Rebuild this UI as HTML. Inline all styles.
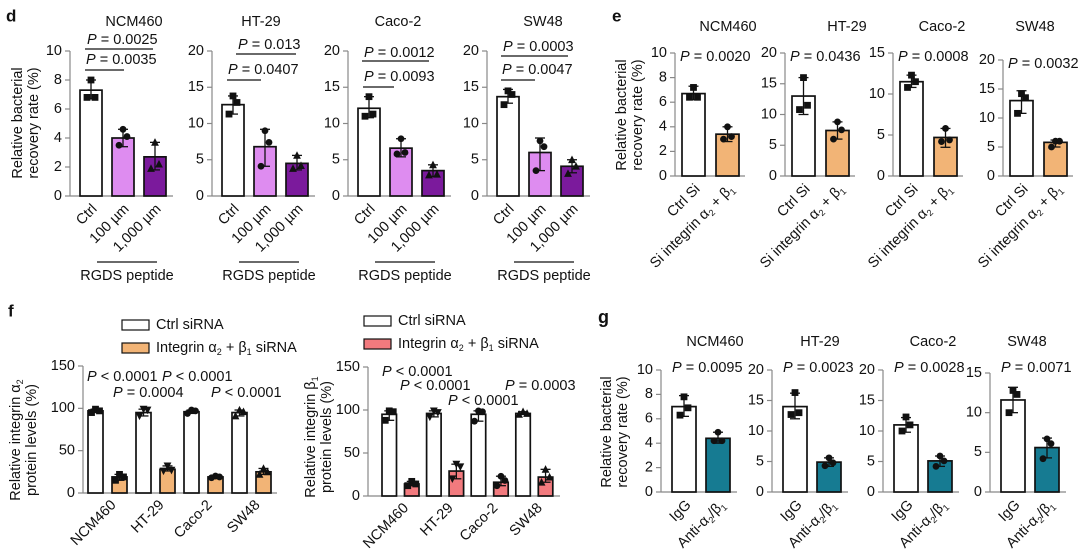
<!DOCTYPE html>
<html><head><meta charset="utf-8"><style>
html,body{margin:0;padding:0;background:#fff;}
svg{display:block;font-family:"Liberation Sans",Arial,sans-serif;}
</style></head><body>
<svg id="fig" width="1080" height="556" viewBox="0 0 1080 556" xmlns="http://www.w3.org/2000/svg"></svg>
<script>
// ---------- DATA ----------
const cells = ["NCM460","HT-29","Caco-2","SW48"];
// panel d
const dCats = ["Ctrl","100 µm","1,000 µm"];
const dMax = [10,20,20,20];
const dTicks = [[0,2,4,6,8,10],[0,5,10,15,20],[0,5,10,15,20],[0,5,10,15,20]];
const dMeans = [[7.3,4.0,2.7],[12.6,6.8,4.5],[12.1,6.6,3.5],[13.7,6.0,4.1]];
const dLo = [[6.7,3.4,1.8],[11.3,4.1,3.6],[10.8,5.4,2.7],[12.8,3.5,3.2]];
const dHi = [[8.0,4.6,3.7],[13.8,9.2,5.6],[13.7,7.9,4.3],[14.7,8.0,5.0]];
const dPts = [[[8.0,6.8,6.8],[4.6,4.1,3.5],[3.7,2.2,1.9]],[[13.8,12.9,11.3],[9.0,7.4,4.1],[5.6,4.2,3.8]],[[13.7,11.3,11.0],[7.9,6.0,5.8],[4.3,3.0,2.9]],[[14.5,14.0,12.6],[7.6,6.8,3.5],[5.0,4.1,3.1]]];
const dP = [["P = 0.0025","P = 0.0035"],["P = 0.013","P = 0.0407"],["P = 0.0012","P = 0.0093"],["P = 0.0003","P = 0.0047"]];
// panel e
const eCats = ["Ctrl Si","Si integrin α2 + β1"];
const eMax = [10,20,15,20];
const eTicks = [[0,2,4,6,8,10],[0,5,10,15,20],[0,5,10,15],[0,5,10,15,20]];
const eMeans = [[6.7,3.4],[13.0,7.4],[11.5,4.7],[13.0,5.8]];
const eLo = [[6.2,2.8],[10.0,6.0],[10.8,3.5],[10.8,5.0]];
const eHi = [[7.3,4.0],[16.0,8.8],[12.3,5.8],[14.7,6.2]];
const ePts = [[[7.2,6.4,6.4],[4.0,3.2,3.0]],[[16.0,11.5,10.8],[8.8,7.5,6.0]],[[12.3,11.5,10.8],[5.8,4.4,4.2]],[[14.2,13.5,10.8],[6.0,6.0,5.0]]];
const eP = ["P = 0.0020","P = 0.0436","P = 0.0008","P = 0.0032"];
// panel g
const gCats = ["IgG","Anti-α2/β1"];
const gMax = [10,20,20,15];
const gTicks = [[0,2,4,6,8,10],[0,5,10,15,20],[0,5,10,15,20],[0,5,10,15]];
const gMeans = [[7.0,4.4],[14.0,4.9],[11.0,5.1],[11.6,5.6]];
const gLo = [[6.2,4.0],[12.0,4.2],[9.8,4.2],[10.0,4.3]];
const gHi = [[7.9,4.9],[16.2,5.6],[12.2,5.9],[13.2,6.8]];
const gPts = [[[7.8,6.9,6.3],[4.9,4.2,4.2]],[[16.3,13.0,12.7],[5.6,4.8,4.3]],[[12.3,11.0,10.0],[5.9,5.1,4.2]],[[12.8,12.3,10.0],[6.7,6.1,4.2]]];
const gP = ["P = 0.0095","P = 0.0023","P = 0.0028","P = 0.0071"];
// panel f
const fTicks = [0,50,100,150];
const fA2Ctrl = [97,95,96,95];
const fA2Si = [19,28,19,25];
const fA2CtrlPts = [[99,97,95],[99,98,91],[98,97,94],[98,96,91]];
const fA2SiPts = [[22,19,15],[32,27,26],[20,19,18],[29,25,22]];
const fB1Ctrl = [95,96,95,96];
const fB1Si = [14,29,16,22];
const fB1CtrlPts = [[99,98,88],[99,97,92],[99,98,87],[98,96,95]];
const fB1SiPts = [[17,14,12],[37,34,20],[23,18,12],[31,22,16]];

// ---------- HELPERS ----------
const NS = "http://www.w3.org/2000/svg";
const svg = document.getElementById("fig");
const FS = 14.5;
function add(parent, tag, attrs, name, inter) {
  const el = document.createElementNS(NS, tag);
  for (const k in attrs) el.setAttribute(k, attrs[k]);
  
  
  parent.appendChild(el);
  return el;
}
function txt(parent, x, y, s, opts, name) {
  const o = Object.assign({x:x, y:y, "font-size":FS, fill:"#111", "dominant-baseline":"middle"}, opts||{});
  const t = add(parent, "text", o, name, false);
  t.innerHTML = s;
  return t;
}
function pText(s){ return s.replace(/^P/, '<tspan font-style="italic">P</tspan>'); }
function sub(s){ return s.replace(/α2/g,'α<tspan font-size="9" baseline-shift="sub">2</tspan>').replace(/β1/g,'β<tspan font-size="9" baseline-shift="sub">1</tspan>'); }
function marker(g, kind, cx, cy, name) {
  const s = 3.4;
  let el;
  if (kind === "sq") el = add(g, "rect", {x:cx-s, y:cy-s, width:2*s, height:2*s, fill:"#111"}, name, false);
  else if (kind === "ci") el = add(g, "circle", {cx:cx, cy:cy, r:s, fill:"#111"}, name, false);
  else if (kind === "tr") el = add(g, "polygon", {points:`${cx},${cy-s-0.8} ${cx-s-0.5},${cy+s} ${cx+s+0.5},${cy+s}`, fill:"#111"}, name, false);
  else el = add(g, "polygon", {points:`${cx},${cy+s+0.8} ${cx-s-0.5},${cy-s} ${cx+s+0.5},${cy-s}`, fill:"#111"}, name, false);
  return el;
}
function yAxis(g, ax, y0, yTop, max, ticks, xEnd) {
  const sc = v => y0 - v / max * (y0 - yTop);
  add(g, "line", {x1:ax, y1:sc(ticks[ticks.length-1]), x2:ax, y2:y0, stroke:"#888", "stroke-width":1.2}, "y-axis", false);
  add(g, "line", {x1:ax, y1:y0, x2:xEnd, y2:y0, stroke:"#888", "stroke-width":1.2}, "x-axis", false);
  ticks.forEach(t => {
    add(g, "line", {x1:ax-5, y1:sc(t), x2:ax, y2:sc(t), stroke:"#888", "stroke-width":1.2}, "y-tick", false);
    txt(g, ax-8, sc(t), String(t), {"text-anchor":"end", "font-size":FS}, "y-tick-label");
  });
  return sc;
}
function bar(g, sc, x, w, mean, lo, hi, pts, color, mk, y0, name) {
  add(g, "rect", {x:x, y:sc(mean), width:w, height:y0 - sc(mean), fill:color, stroke:"#111", "stroke-width":1.7}, name, false);
  const cx = x + w/2;
  add(g, "line", {x1:cx, y1:sc(lo), x2:cx, y2:sc(hi), stroke:"#111", "stroke-width":1.3}, "error-bar", false);
  add(g, "line", {x1:cx-5, y1:sc(hi), x2:cx+5, y2:sc(hi), stroke:"#111", "stroke-width":1.3}, "error-cap", false);
  add(g, "line", {x1:cx-5, y1:sc(lo), x2:cx+5, y2:sc(lo), stroke:"#111", "stroke-width":1.3}, "error-cap", false);
  const offs = [0, 4, -4];
  pts.forEach((p, i) => marker(g, mk, cx + offs[i], sc(p), "data-point"));
}
function rotLabel(g, x, y, s, name) {
  return txt(g, x, y, s, {"text-anchor":"end", transform:`rotate(-45 ${x} ${y})`, "font-size":FS}, name);
}
function yTitle(g, cx, cy, l1, l2, name) {
  txt(g, cx-8, cy, l1, {"text-anchor":"middle", transform:`rotate(-90 ${cx-8} ${cy})`, "font-size":FS}, name);
  txt(g, cx+8, cy, l2, {"text-anchor":"middle", transform:`rotate(-90 ${cx+8} ${cy})`, "font-size":FS}, name);
}

// ---------- PANEL D ----------
const dAx = [70,212,348,487];
const dOff = [10,42,74];
const dColors = ["#ffffff","#de8cf0","#7b1a9c"];
const dMk = ["sq","ci","tr"];
const gD = add(svg, "g", {}, "panel-d", false);
txt(gD, 6, 17, "d", {"font-weight":"bold", "font-size":17}, "panel-label-d");
yTitle(gD, 26, 123, "Relative bacterial", "recovery rate (%)", "y-axis-title-d");
const dPY = [[40,49,60,70],[45,54,70,80],[53,61,77,87],[47,56,70,80]];
const dLines = [[[15,83],[15,54]],[[24,84],[15,49]],[[14,81],[15,46]],[[14,81],[14,48]]];
const dTitleX = [134,261,398,543];
cells.forEach((c, k) => {
  const g = add(gD, "g", {}, "subpanel-d-" + c.toLowerCase(), false);
  const ax = dAx[k];
  const sc = yAxis(g, ax, 196, 51, dMax[k], dTicks[k], ax + 103);
  txt(g, dTitleX[k], 22, c, {"text-anchor":"middle"}, "panel-title");
  dCats.forEach((cat, i) => {
    bar(g, sc, ax + dOff[i], 22, dMeans[k][i], dLo[k][i], dHi[k][i], dPts[k][i], dColors[i], dMk[i], 196, "bar-" + cat);
    rotLabel(g, ax + dOff[i] + 15, 207, cat, "x-tick-label");
  });
  const L = dLines[k];
  txt(g, ax + L[0][0] + 2, dPY[k][0], pText(dP[k][0]), {}, "p-value");
  add(g, "line", {x1:ax+L[0][0], y1:dPY[k][1], x2:ax+L[0][1], y2:dPY[k][1], stroke:"#111", "stroke-width":1.2}, "significance-line", false);
  txt(g, ax + L[1][0] + 1, dPY[k][2], pText(dP[k][1]), {}, "p-value");
  add(g, "line", {x1:ax+L[1][0], y1:dPY[k][3], x2:ax+L[1][1], y2:dPY[k][3], stroke:"#111", "stroke-width":1.2}, "significance-line", false);
  add(g, "line", {x1:ax+27, y1:262, x2:ax+87, y2:262, stroke:"#111", "stroke-width":1.2}, "rgds-bracket", false);
  txt(g, ax+57, 276, "RGDS peptide", {"text-anchor":"middle"}, "rgds-label");
});

// ---------- PANEL E ----------
const eAx = [675,785,893,1003];
const eTop = [53,53,53,60];
const eOff = [7,41];
const eColors = ["#ffffff","#f2b476"];
const eMk = ["sq","ci"];
const eTitleX = [728,847,942,1035];
const gE = add(svg, "g", {}, "panel-e", false);
txt(gE, 612, 17, "e", {"font-weight":"bold", "font-size":17}, "panel-label-e");
yTitle(gE, 630, 115, "Relative bacterial", "recovery rate (%)", "y-axis-title-e");
cells.forEach((c, k) => {
  const g = add(gE, "g", {}, "subpanel-e-" + c.toLowerCase(), false);
  const ax = eAx[k];
  const sc = yAxis(g, ax, 176, eTop[k], eMax[k], eTicks[k], ax + 70);
  txt(g, eTitleX[k], 27, c, {"text-anchor":"middle"}, "panel-title");
  txt(g, ax + 5, eTop[k] + 4, pText(eP[k]), {}, "p-value");
  eCats.forEach((cat, i) => {
    bar(g, sc, ax + eOff[i], 23, eMeans[k][i], eLo[k][i], eHi[k][i], ePts[k][i], eColors[i], eMk[i], 176, "bar-" + (i ? "si-integrin" : "ctrl-si"));
    rotLabel(g, ax + eOff[i] + 16, 187, sub(cat), "x-tick-label");
  });
});

// ---------- PANEL G ----------
const gAx = [661,772,883,990];
const gTop = [370,370,370,373];
const gOff = [11,45];
const gColors = ["#ffffff","#167b92"];
const gMk = ["sq","ci"];
const gTitleX = [715,820,933,1027];
const gG = add(svg, "g", {}, "panel-g", false);
txt(gG, 598, 318, "g", {"font-weight":"bold", "font-size":18}, "panel-label-g");
yTitle(gG, 615, 432, "Relative bacterial", "recovery rate (%)", "y-axis-title-g");
cells.forEach((c, k) => {
  const g = add(gG, "g", {}, "subpanel-g-" + c.toLowerCase(), false);
  const ax = gAx[k];
  const sc = yAxis(g, ax, 492, gTop[k], gMax[k], gTicks[k], ax + 76);
  txt(g, gTitleX[k], 342, c, {"text-anchor":"middle"}, "panel-title");
  txt(g, ax + 11, 368, pText(gP[k]), {}, "p-value");
  gCats.forEach((cat, i) => {
    bar(g, sc, ax + gOff[i], 24, gMeans[k][i], gLo[k][i], gHi[k][i], gPts[k][i], gColors[i], gMk[i], 492, "bar-" + (i ? "anti-integrin" : "igg"));
    rotLabel(g, ax + gOff[i] + 17, 503, sub(cat), "x-tick-label");
  });
});

// ---------- PANEL F ----------
const fMk = ["sq","dn","ci","tr"];
function fChart(name, ax, y0, yTop, first, spacing, pair, w, ctrl, si, ctrlPts, siPts, siColor, xEnd) {
  const g = add(svg, "g", {}, name, false);
  const sc = yAxis(g, ax, y0, yTop, 150, fTicks, xEnd);
  cells.forEach((c, k) => {
    const x = first + k * spacing;
    const lo = Math.min(...ctrlPts[k]), hi = Math.max(...ctrlPts[k]);
    bar(g, sc, x, w, ctrl[k], lo, hi, ctrlPts[k], "#ffffff", fMk[k], y0, "bar-ctrl-" + c.toLowerCase());
    const lo2 = Math.min(...siPts[k]), hi2 = Math.max(...siPts[k]);
    bar(g, sc, x + pair, w, si[k], lo2, hi2, siPts[k], siColor, fMk[k], y0, "bar-sirna-" + c.toLowerCase());
    rotLabel(g, x + pair + 2, y0 + 10, c, "x-tick-label");
  });
  return g;
}
const gFA = fChart("panel-f-alpha2", 83, 493, 366, 88, 48, 24, 15, fA2Ctrl, fA2Si, fA2CtrlPts, fA2SiPts, "#f2b476", 277);
const gFB = fChart("panel-f-beta1", 368, 496, 367, 382, 44.6, 22.5, 14.5, fB1Ctrl, fB1Si, fB1CtrlPts, fB1SiPts, "#f27a7e", 560);
txt(svg, 8, 312, "f", {"font-weight":"bold", "font-size":17}, "panel-label-f");
yTitle(gFA, 24, 440, sub('Relative integrin α2'), "protein levels (%)", "y-axis-title-f-alpha2");
yTitle(gFB, 319, 437, sub('Relative integrin β1'), "protein levels (%)", "y-axis-title-f-beta1");
txt(gFA, 87, 377, pText("P < 0.0001"), {}, "p-value");
txt(gFA, 162, 377, pText("P < 0.0001"), {}, "p-value");
txt(gFA, 113, 393, pText("P = 0.0004"), {}, "p-value");
txt(gFA, 211, 393, pText("P < 0.0001"), {}, "p-value");
txt(gFB, 382, 372, pText("P < 0.0001"), {}, "p-value");
txt(gFB, 400, 386, pText("P < 0.0001"), {}, "p-value");
txt(gFB, 448, 401, pText("P < 0.0001"), {}, "p-value");
txt(gFB, 505, 386, pText("P = 0.0003"), {}, "p-value");
// legends
function legend(x, y, color, label, name) {
  const g = add(svg, "g", {}, name, false);
  add(g, "rect", {x:x, y:y-5, width:27, height:10, fill:color, stroke:"#111", "stroke-width":1.2}, "legend-swatch", false);
  txt(g, x + 34, y, label, {}, "legend-text");
}
legend(122, 325, "#ffffff", "Ctrl siRNA", "legend-entry-ctrl-left");
legend(122, 348, "#f2b476", sub("Integrin α2 + β1 siRNA"), "legend-entry-sirna-left");
legend(364, 321, "#ffffff", "Ctrl siRNA", "legend-entry-ctrl-right");
legend(364, 344, "#f27a7e", sub("Integrin α2 + β1 siRNA"), "legend-entry-sirna-right");
</script>
</body></html>
